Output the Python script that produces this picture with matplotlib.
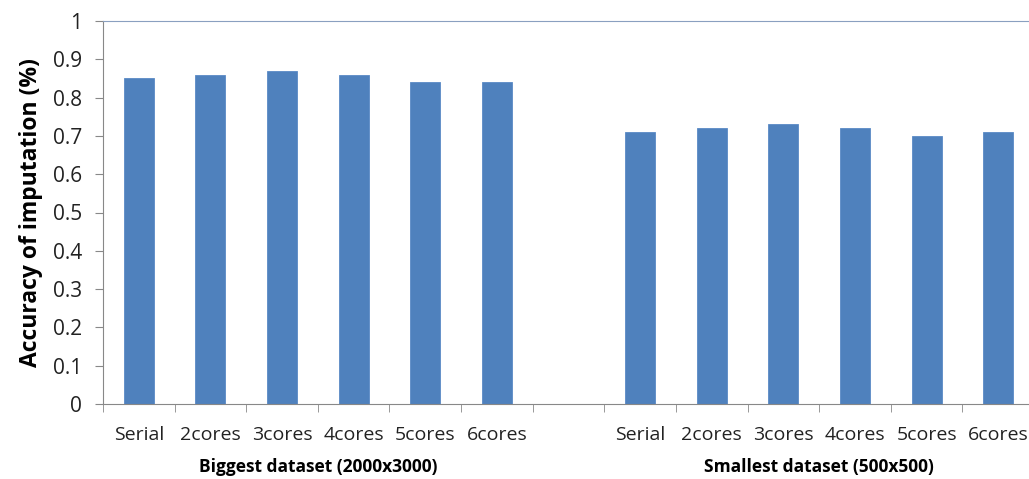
import numpy as np
import matplotlib
matplotlib.use('Agg')
from matplotlib import pyplot as plt

categories = ['Serial', '2cores', '3cores', '4cores', '5cores', '6cores']
groups = ['Biggest dataset (2000x3000)', 'Smallest dataset (500x500)']
biggest = [0.85, 0.86, 0.87, 0.86, 0.84, 0.84]
smallest = [0.71, 0.72, 0.73, 0.72, 0.70, 0.71]

plt.rcParams['font.family'] = ['Open Sans', 'DejaVu Sans']

fig = plt.figure(figsize=(10.29, 4.79), dpi=100)
ax = fig.add_axes([103 / 1029, 1 - 404 / 479, 931 / 1029, 383 / 479])

color = '#4F81BD'
n = len(categories)
x_big = np.arange(n)
x_small = np.arange(n) + n + 1
ax.bar(x_big, biggest, width=0.42, color=color, edgecolor='#5a8ac6', linewidth=0.6)
ax.bar(x_small, smallest, width=0.42, color=color, edgecolor='#5a8ac6', linewidth=0.6)

ax.set_xlim(-0.5, 2 * n + 0.5)
ax.set_ylim(0, 1)
ax.set_yticks(np.arange(0, 1.01, 0.1))
ax.set_yticklabels(['0'] + [f'{v:.1f}' for v in np.arange(0.1, 0.95, 0.1)] + ['1'])

# category labels without ticks, boundary ticks as minor
ax.set_xticks(list(x_big) + list(x_small))
ax.set_xticklabels(categories + categories)
ax.tick_params(axis='x', which='major', length=0, pad=16, labelsize=14, colors='#222222')
ax.set_xticks(np.arange(-0.5, 2 * n + 0.6, 1), minor=True)
ax.tick_params(axis='x', which='minor', length=6, color='#888888', direction='out')
ax.tick_params(axis='y', length=6, labelsize=15, pad=9, color='#888888', labelcolor='#222222')

ax.spines['right'].set_visible(False)
ax.spines['top'].set_color('#8aa0c0')
ax.spines['left'].set_color('#888888')
ax.spines['bottom'].set_color('#888888')

ax.set_ylabel('Accuracy of imputation (%)', fontsize=16.5, fontweight='bold', labelpad=7)

ax.text(x_big.mean(), -0.165, groups[0], transform=ax.get_xaxis_transform(),
        ha='center', va='center', fontsize=12.5, fontweight='bold')
ax.text(x_small.mean(), -0.165, groups[1], transform=ax.get_xaxis_transform(),
        ha='center', va='center', fontsize=12.5, fontweight='bold')

fig.savefig('out.png', dpi=100)
